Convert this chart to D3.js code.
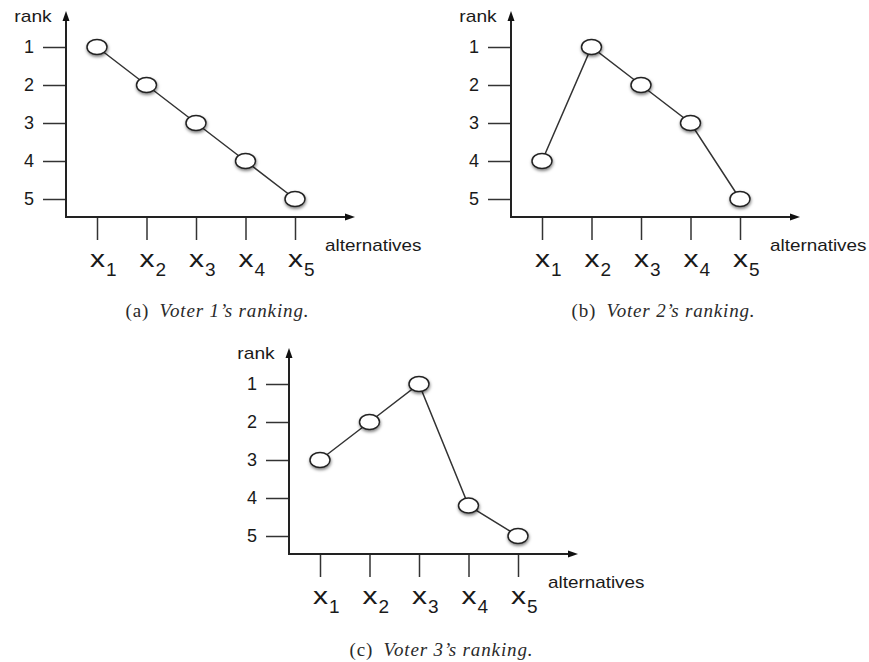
<!DOCTYPE html>
<html>
<head>
<meta charset="utf-8">
<script src="https://cdn.jsdelivr.net/npm/d3@7"></script>
<style>
  body { margin: 0; background: #fff; }
  svg { display: block; }
  .sans { font-family: "Liberation Sans", Arial, sans-serif; fill: #1a1a1a; }
  .caption { font-family: "Liberation Serif", "DejaVu Serif", serif; font-size: 19px; fill: #2a2a2a; }
  .axis path.domain { display: none; }
  .axis line { stroke: #333; stroke-width: 1.5; }
</style>
</head>
<body>
<svg width="869" height="662"></svg>
<script>
const alternatives = ["1", "2", "3", "4", "5"],
      ranks = [1, 2, 3, 4, 5]

// rank given to x1..x5 by each voter
const voter1 = [1, 2, 3, 4, 5],
      voter2 = [4, 1, 2, 3, 5],
      voter3 = [3, 2, 1, 4.2, 5]

const panels = [
  {values: voter1, tag: "(a)", caption: "Voter 1\u2019s ranking.", ox: 66, oy: 217, cx: 217, cy: 317},
  {values: voter2, tag: "(b)", caption: "Voter 2\u2019s ranking.", ox: 511, oy: 217, cx: 663, cy: 317},
  {values: voter3, tag: "(c)", caption: "Voter 3\u2019s ranking.", ox: 289, oy: 554, cx: 441, cy: 656}
]

const svg = d3.select("svg")

const defs = svg.append("defs")
const shadow = defs.append("filter").attr("id", "shadow")
    .attr("x", "-50%").attr("y", "-50%").attr("width", "200%").attr("height", "200%")
shadow.append("feDropShadow")
    .attr("dx", 0.5).attr("dy", 1.8).attr("stdDeviation", 1.5)
    .attr("flood-color", "#000").attr("flood-opacity", 0.5)

const x = d3.scalePoint().domain(alternatives).range([31, 229]),
      y = d3.scaleLinear().domain([1, 5]).range([-170, -18])

const line = d3.line()
    .x((d, i) => x(alternatives[i]))
    .y(d => y(d))

panels.forEach(function (p) {
  const g = svg.append("g").attr("transform", "translate(" + p.ox + "," + p.oy + ")")

  // y axis ticks + labels
  g.append("g")
    .attr("class", "axis")
    .call(d3.axisLeft(y).tickValues(ranks).tickSize(23).tickPadding(9).tickFormat(d3.format("d")))
    .selectAll("text")
      .attr("font-family", "Liberation Sans, Arial, sans-serif")
      .attr("font-size", 18)
      .attr("fill", "#1a1a1a")

  // x axis ticks hang below
  g.append("g")
    .attr("class", "axis")
    .call(d3.axisBottom(x).tickSize(23).tickFormat(""))

  // axis lines with arrows
  g.append("line").attr("x1", 0).attr("y1", 0).attr("x2", 0).attr("y2", -200)
    .attr("stroke", "#222").attr("stroke-width", 2)
  g.append("line").attr("x1", -1).attr("y1", 0).attr("x2", 282).attr("y2", 0)
    .attr("stroke", "#222").attr("stroke-width", 2)
  g.append("path").attr("d", "M0,-206 L-3.5,-196 L3.5,-196 Z").attr("fill", "#111")
  g.append("path").attr("d", "M289,0 L279,-3.5 L279,3.5 Z").attr("fill", "#111")

  g.append("text").attr("class", "sans")
    .attr("transform", "translate(-33,-195) scale(1.2,1)")
    .attr("text-anchor", "middle")
    .style("font-size", "16px")
    .text("rank")

  g.append("text").attr("class", "sans")
    .attr("transform", "translate(259,34) scale(1.18,1)")
    .style("font-size", "16px")
    .text("alternatives")

  // x labels with subscripts
  const lab = g.selectAll(".xlab")
    .data(alternatives)
    .enter().append("g")
      .attr("class", "xlab")
      .attr("transform", d => "translate(" + x(d) + ",0)")
  lab.append("text").attr("class", "sans")
    .attr("transform", "translate(-7,50) scale(1.25,1)")
    .style("font-size", "24px")
    .text("x")
  lab.append("text").attr("class", "sans")
    .attr("x", 9).attr("y", 59)
    .style("font-size", "19px")
    .text(d => d)

  g.append("path")
    .attr("d", line(p.values))
    .attr("fill", "none")
    .attr("stroke", "#333")
    .attr("stroke-width", 1.5)

  g.selectAll(".pt")
    .data(p.values)
    .enter().append("ellipse")
      .attr("class", "pt")
      .attr("cx", (d, i) => x(alternatives[i]))
      .attr("cy", d => y(d))
      .attr("rx", 10)
      .attr("ry", 7.5)
      .attr("fill", "#fff")
      .attr("stroke", "#222")
      .attr("stroke-width", 1.5)
      .attr("filter", "url(#shadow)")

  const cap = svg.append("text").attr("class", "caption")
    .attr("x", p.cx).attr("y", p.cy)
    .attr("text-anchor", "middle")
    .attr("textLength", 183)
    .attr("lengthAdjust", "spacing")
  cap.append("tspan").text(p.tag + "\u2002")
  cap.append("tspan").style("font-style", "italic").text(p.caption)
})
</script>
</body>
</html>
